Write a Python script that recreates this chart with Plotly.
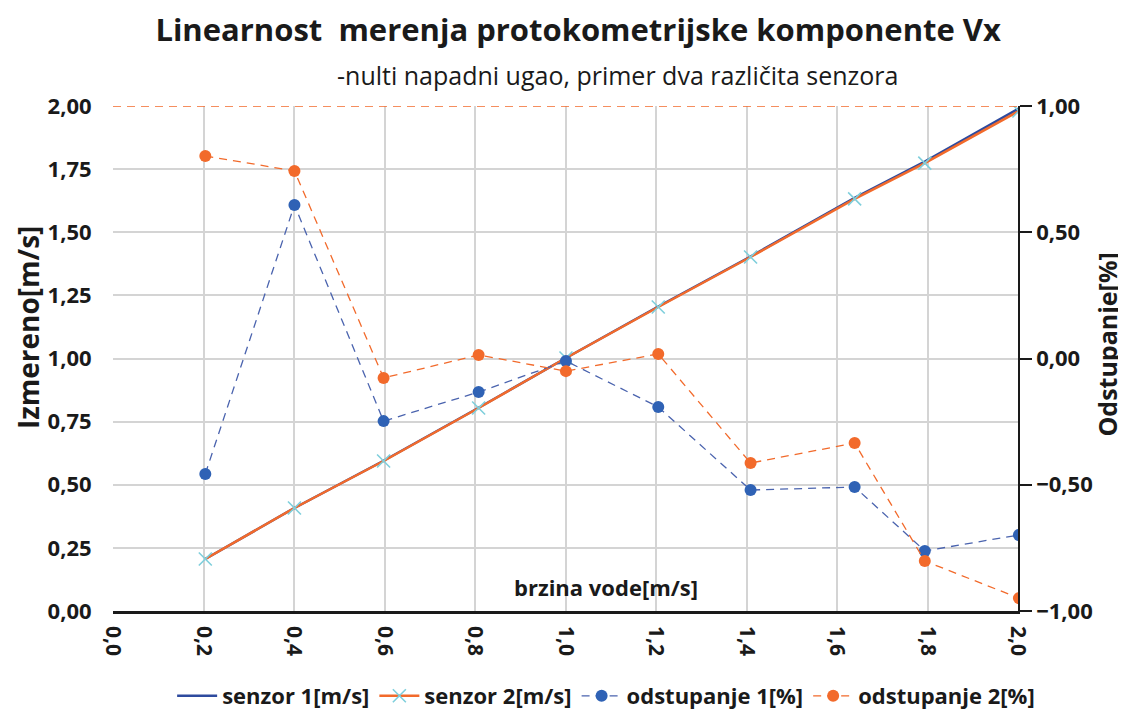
import plotly.graph_objects as go

brzina = [0.204, 0.401, 0.598, 0.808, 1.001, 1.205, 1.409, 1.639, 1.794, 2.002]
senzor1 = [0.206, 0.408, 0.595, 0.805, 1.002, 1.206, 1.404, 1.636, 1.78, 1.99]
senzor2 = [0.206, 0.408, 0.594, 0.804, 1.002, 1.204, 1.402, 1.632, 1.774, 1.98]
odstupanje1 = [-0.457, 0.608, -0.248, -0.133, -0.010, -0.192, -0.521, -0.509, -0.762, -0.699]
odstupanje2 = [0.802, 0.743, -0.077, 0.014, -0.050, 0.018, -0.414, -0.335, -0.802, -0.949]

x_ticks = [0.0, 0.2, 0.4, 0.6, 0.8, 1.0, 1.2, 1.4, 1.6, 1.8, 2.0]
y_left_ticks = [0, 0.25, 0.5, 0.75, 1.0, 1.25, 1.5, 1.75, 2.0]
y_right_ticks = [-1.0, -0.5, 0.0, 0.5, 1.0]

FONT = "Open Sans"
TXT = "#1a1a1a"
BLUE = "#2E4A9E"
ORANGE = "#F26A2B"
DOT_BLUE = "#2F62B5"
CYAN = "#7FCFDC"

fig = go.Figure()
fig.add_trace(go.Scatter(x=brzina, y=senzor1, mode="lines", name="senzor 1[m/s]",
                         line=dict(color=BLUE, width=2.5)))
fig.add_trace(go.Scatter(x=brzina, y=senzor2, mode="lines+markers", name="senzor 2[m/s]",
                         line=dict(color=ORANGE, width=2.5),
                         marker=dict(symbol="x-thin", size=13, line=dict(color=CYAN, width=1.6), color=CYAN)))
fig.add_trace(go.Scatter(x=brzina, y=odstupanje1, mode="lines+markers", name="odstupanje 1[%]",
                         yaxis="y2", line=dict(color="#4A63AE", width=1.3, dash="8px,6px"),
                         marker=dict(symbol="circle", size=12, color=DOT_BLUE)))
fig.add_trace(go.Scatter(x=brzina, y=odstupanje2, mode="lines+markers", name="odstupanje 2[%]",
                         yaxis="y2", line=dict(color=ORANGE, width=1.3, dash="8px,6px"),
                         marker=dict(symbol="circle", size=12, color=ORANGE)))

fig.add_shape(type="line", xref="paper", yref="y", x0=0, x1=1, y0=2.0, y1=2.0,
              line=dict(color=ORANGE, width=1.3, dash="8px,6px"), layer="above")

fig.update_layout(
    width=1118, height=704,
    paper_bgcolor="white", plot_bgcolor="white",
    separators=", ",
    font=dict(family=FONT, color=TXT),
    margin=dict(l=105, r=108, t=98, b=101, autoexpand=False),
    title=dict(text="<b>Linearnost  merenja protokometrijske komponente Vx</b>",
               x=0.510, xanchor="center", yref="container", y=1 - 22 / 704, yanchor="middle",
               font=dict(family=FONT, size=31, color=TXT)),
    xaxis=dict(range=[0, 2.0], tickvals=x_ticks, tickformat=".1f", tickangle=90,
               automargin=False,
               showgrid=True, gridcolor="#D4D4D4", gridwidth=1.5,
               showline=True, linecolor=TXT, linewidth=2.5,
               ticks="outside", ticklen=8, tickcolor="rgba(0,0,0,0)",
               tickfont=dict(family=FONT, size=21, color=TXT, weight="bold"),
               zeroline=False),
    yaxis=dict(range=[0, 2.0], tickvals=y_left_ticks, tickformat=".2f",
               automargin=False,
               showgrid=True, gridcolor="#D4D4D4", gridwidth=1.5,
               showline=False, zeroline=False,
               ticks="outside", ticklen=16, tickcolor="rgba(0,0,0,0)",
               tickfont=dict(family=FONT, size=22, color=TXT, weight="bold")),
    yaxis2=dict(range=[-1.0, 1.0], tickvals=y_right_ticks, tickformat=".2f",
                automargin=False,
                overlaying="y", side="right", showgrid=False, zeroline=False,
                showline=True, linecolor=TXT, linewidth=1.5,
                ticks="outside", ticklen=12, tickcolor=TXT, tickwidth=1.5,
                tickfont=dict(family=FONT, size=22, color=TXT, weight="bold")),
    legend=dict(orientation="h", xref="container", x=0.535, xanchor="center",
                yref="container", y=1 - 688 / 704, yanchor="middle",
                font=dict(family=FONT, size=22, color=TXT, weight="bold"),
                bgcolor="rgba(0,0,0,0)", itemwidth=40, tracegroupgap=0),
    showlegend=True,
)

fig.add_annotation(text="-nulti napadni ugao, primer dva različita senzora",
                   xref="paper", yref="paper", x=0.558, y=1.061, showarrow=False,
                   xanchor="center", yanchor="middle",
                   font=dict(family=FONT, size=25, color=TXT))
fig.add_annotation(text="<b>brzina vode[m/s]</b>",
                   xref="paper", yref="paper", x=0.545, y=0.048, showarrow=False,
                   xanchor="center", yanchor="middle",
                   font=dict(family=FONT, size=22, color=TXT))
fig.add_annotation(text="<b>Izmereno[m/s]</b>", textangle=-90,
                   xref="paper", yref="paper", x=-0.094, y=0.562, showarrow=False,
                   xanchor="center", yanchor="middle",
                   font=dict(family=FONT, size=28, color=TXT))
fig.add_annotation(text="<b>Odstupanje[%]</b>", textangle=-90,
                   xref="paper", yref="paper", x=1.098, y=0.527, showarrow=False,
                   xanchor="center", yanchor="middle",
                   font=dict(family=FONT, size=25, color=TXT))

fig.write_html("out.html")
